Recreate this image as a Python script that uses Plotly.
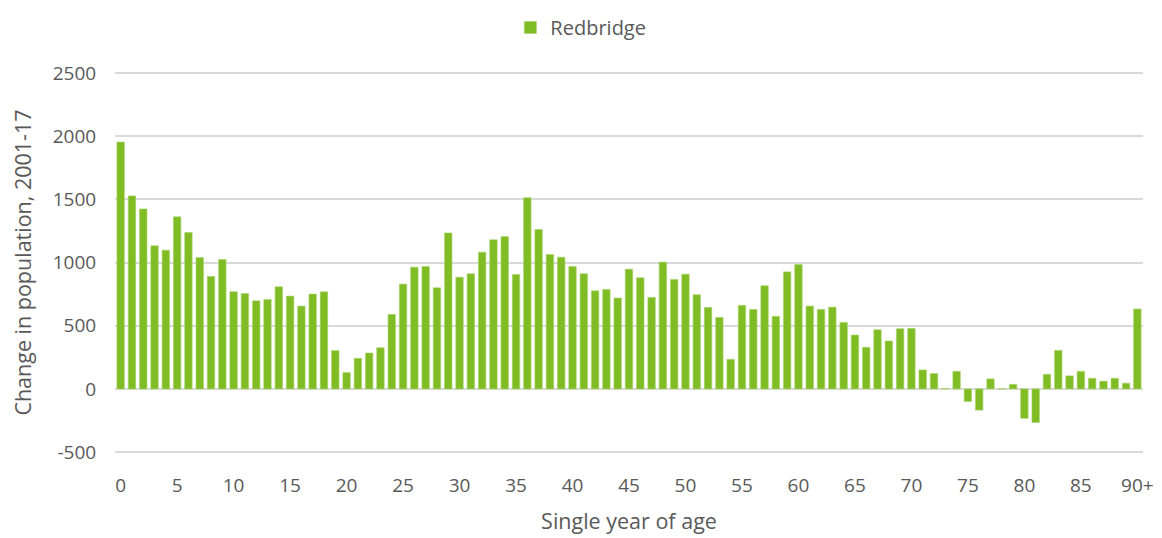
import plotly.graph_objects as go

ages = [str(a) for a in range(90)] + ["90+"]
change = [1953, 1527, 1424, 1132, 1097, 1361, 1237, 1040, 890, 1024,
          768, 755, 697, 708, 808, 734, 655, 750, 768, 303,
          129, 242, 284, 326, 590, 829, 963, 969, 800, 1234,
          884, 911, 1082, 1179, 1205, 905, 1513, 1261, 1063, 1042,
          969, 911, 776, 787, 719, 947, 879, 724, 1003, 866,
          908, 745, 645, 566, 234, 661, 629, 816, 574, 926,
          984, 655, 629, 647, 526, 426, 329, 468, 379, 476,
          479, 150, 121, 4, 139, -100, -168, 79, 3, 36,
          -233, -266, 116, 305, 103, 139, 84, 61, 84, 45,
          632]
tick_labels = ["0", "5", "10", "15", "20", "25", "30", "35", "40", "45",
               "50", "55", "60", "65", "70", "75", "80", "85", "90+"]
y_ticks = [-500, 0, 500, 1000, 1500, 2000, 2500]

font = "Open Sans"
grey = "#595959"

fig = go.Figure(go.Bar(
    x=ages, y=change, name="Redbridge",
    marker=dict(color="#80bc24", line=dict(color="#a6d36a", width=0.6)),
))

# page body adds 8px, so margins are shifted to compensate
fig.update_layout(
    width=1162, height=538,
    margin=dict(l=107, r=27, t=63, b=92, autoexpand=False),
    plot_bgcolor="white", paper_bgcolor="white",
    bargap=0.34,
    font=dict(family=font, size=19, color=grey),
    showlegend=True,
    legend=dict(orientation="h", xref="container", x=0.493, xanchor="center",
                yref="container", y=1, yanchor="top",
                font=dict(size=20, color=grey), itemwidth=30),
)
fig.update_xaxes(
    type="category", tickmode="array", tickvals=tick_labels, ticktext=tick_labels,
    showgrid=False, showline=False, ticks="", tickfont=dict(size=19, color=grey),
    automargin=False, ticklabelstandoff=18,
    title=dict(text="Single year of age", font=dict(size=21.5, color=grey), standoff=16),
)
fig.update_yaxes(
    range=[-515, 2515], tickvals=y_ticks, ticktext=[str(v) for v in y_ticks],
    showgrid=True, gridcolor="#d9d9d9", gridwidth=1.5,
    zeroline=True, zerolinecolor="#d9d9d9", zerolinewidth=1.5,
    ticks="outside", ticklen=14, tickcolor="white",
    tickfont=dict(size=19, color=grey), automargin=False,
    title=dict(text="Change in population, 2001-17", font=dict(size=21.5, color=grey), standoff=20),
)

fig.write_html("out.html")
